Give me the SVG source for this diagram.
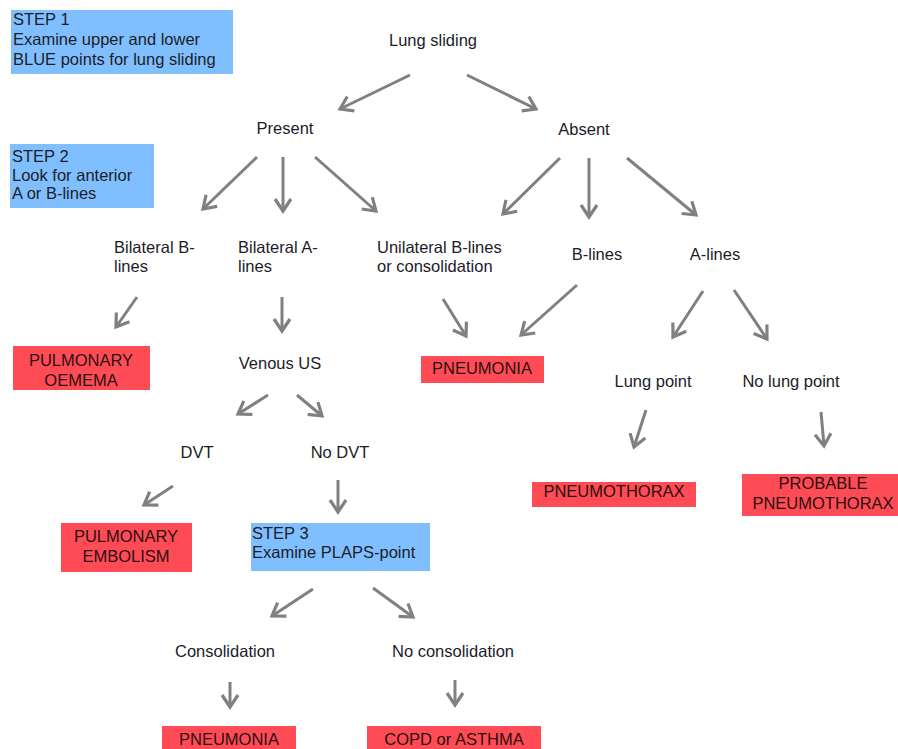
<svg xmlns="http://www.w3.org/2000/svg" width="898" height="749" viewBox="0 0 898 749">
<style>
text{font-family:"Liberation Sans",Arial,sans-serif;font-size:16.5px;fill:#1c1c28}
.c{text-anchor:middle}
.step{fill:#80bfff}
.res{fill:#ff4b55}
.res-t{text-anchor:middle;fill:#2a1010}
.arr line{stroke:#808080;stroke-width:3;marker-end:url(#ah)}
</style>
<defs>
<marker id="ah" markerUnits="userSpaceOnUse" markerWidth="20" markerHeight="20" refX="13" refY="10" orient="auto">
<path d="M1,2 L13,10 L1,18" fill="none" stroke="#808080" stroke-width="3.2" stroke-linejoin="miter"/>
</marker>
</defs>
<rect width="898" height="749" fill="#fff"/>
<g id="step1"><rect class="step" x="11" y="10" width="222" height="64"/><text x="13" y="25">STEP 1</text><text x="13" y="45">Examine upper and lower</text><text x="13" y="65">BLUE points for lung sliding</text></g>
<g id="step2"><rect class="step" x="10" y="144" width="144" height="64"/><text x="12" y="162">STEP 2</text><text x="12" y="181">Look for anterior</text><text x="12" y="199">A or B-lines</text></g>
<g id="lung-sliding"><text class="c" x="433" y="46">Lung sliding</text></g>
<g id="present"><text class="c" x="285" y="134">Present</text></g>
<g id="absent"><text class="c" x="584" y="135">Absent</text></g>
<g id="bilateral-b"><text x="114" y="253">Bilateral B-</text><text x="114" y="272">lines</text></g>
<g id="bilateral-a"><text x="238" y="253">Bilateral A-</text><text x="238" y="272">lines</text></g>
<g id="unilateral"><text x="377" y="253">Unilateral B-lines</text><text x="377" y="272">or consolidation</text></g>
<g id="b-lines"><text class="c" x="597" y="260">B-lines</text></g>
<g id="a-lines"><text class="c" x="715" y="260">A-lines</text></g>
<g id="pulm-oedema"><rect class="res" x="13" y="346" width="137" height="44"/><text class="res-t" x="81" y="366">PULMONARY</text><text class="res-t" x="81" y="386">OEMEMA</text></g>
<g id="venous-us"><text class="c" x="280" y="369">Venous US</text></g>
<g id="pneumonia1"><rect class="res" x="421" y="356" width="123" height="27"/><text class="res-t" x="482" y="374">PNEUMONIA</text></g>
<g id="lung-point"><text class="c" x="653" y="387">Lung point</text></g>
<g id="no-lung-point"><text class="c" x="791" y="387">No lung point</text></g>
<g id="dvt"><text class="c" x="197" y="458">DVT</text></g>
<g id="no-dvt"><text class="c" x="340" y="458">No DVT</text></g>
<g id="pneumothorax"><rect class="res" x="532" y="482" width="164" height="25"/><text class="res-t" x="614" y="497">PNEUMOTHORAX</text></g>
<g id="probable-pneumothorax"><rect class="res" x="742" y="474" width="160" height="42"/><text class="res-t" x="823" y="489">PROBABLE</text><text class="res-t" x="823" y="509">PNEUMOTHORAX</text></g>
<g id="pulm-embolism"><rect class="res" x="61" y="523" width="131" height="49"/><text class="res-t" x="126" y="542">PULMONARY</text><text class="res-t" x="126" y="562">EMBOLISM</text></g>
<g id="step3"><rect class="step" x="251" y="523" width="179" height="48"/><text x="252" y="539">STEP 3</text><text x="252" y="558">Examine PLAPS-point</text></g>
<g id="consolidation"><text class="c" x="225" y="657">Consolidation</text></g>
<g id="no-consolidation"><text class="c" x="453" y="657">No consolidation</text></g>
<g id="pneumonia2"><rect class="res" x="162" y="726" width="134" height="30"/><text class="res-t" x="229" y="745">PNEUMONIA</text></g>
<g id="copd"><rect class="res" x="367" y="726" width="174" height="30"/><text class="res-t" x="454" y="745">COPD or ASTHMA</text></g>
<g id="connectors" class="arr">
<line x1="410" y1="75" x2="340" y2="109"/>
<line x1="467" y1="75" x2="536" y2="109"/>
<line x1="257" y1="157" x2="203" y2="209"/>
<line x1="283" y1="157" x2="283" y2="211"/>
<line x1="315" y1="157" x2="376" y2="211"/>
<line x1="560" y1="158" x2="503" y2="214"/>
<line x1="589" y1="158" x2="589" y2="217"/>
<line x1="627" y1="158" x2="696" y2="215"/>
<line x1="137" y1="297" x2="116" y2="327"/>
<line x1="282" y1="297" x2="282" y2="331"/>
<line x1="443" y1="299" x2="466" y2="336"/>
<line x1="577" y1="285" x2="521" y2="335"/>
<line x1="703" y1="291" x2="673" y2="337"/>
<line x1="734" y1="290" x2="767" y2="339"/>
<line x1="268" y1="395" x2="238" y2="414"/>
<line x1="297" y1="395" x2="322" y2="416"/>
<line x1="173" y1="486" x2="144" y2="505"/>
<line x1="338" y1="480" x2="338" y2="512"/>
<line x1="646" y1="410" x2="634" y2="447"/>
<line x1="821" y1="412" x2="824" y2="446"/>
<line x1="313" y1="589" x2="272" y2="616"/>
<line x1="373" y1="588" x2="413" y2="617"/>
<line x1="230" y1="682" x2="230" y2="707"/>
<line x1="455" y1="680" x2="455" y2="705"/>
</g>
</svg>
